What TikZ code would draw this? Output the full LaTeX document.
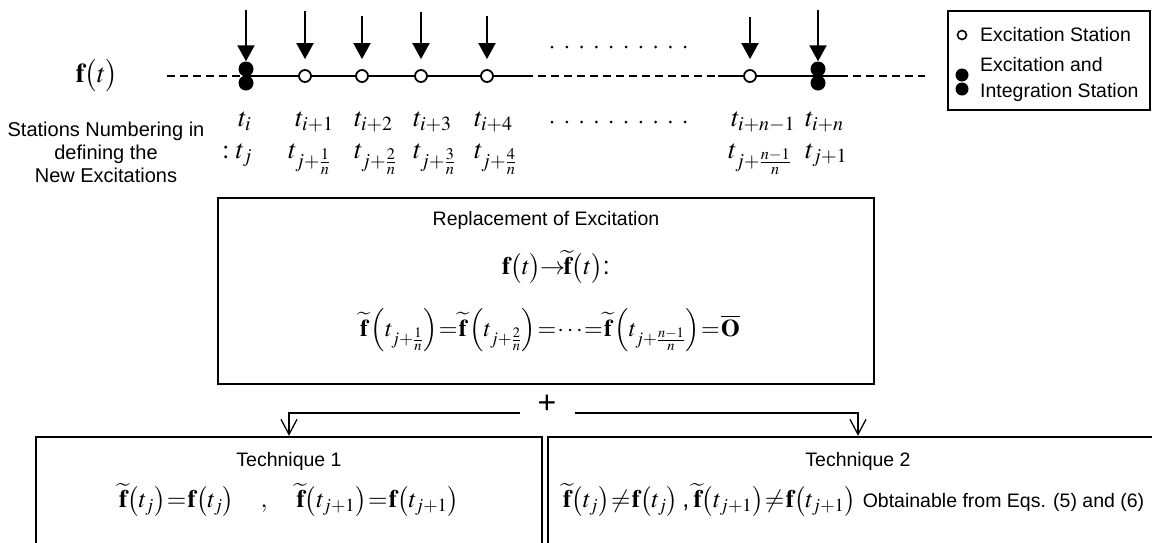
\documentclass[tikz,border=0pt]{standalone}
\usepackage{mathptmx}
\usepackage[no-math]{fontspec}
\setmainfont{Liberation Sans}
\usetikzlibrary{arrows.meta}
\newcommand{\tightrel}{\thickmuskip=1mu\relax\medmuskip=2mu\relax}
\tikzset{
  stn/.style={circle,draw,line width=1.8pt,fill=white,inner sep=0pt,minimum size=12pt},
  ful/.style={circle,fill=black,inner sep=0pt,minimum size=15pt},
  lbl/.style={inner sep=0pt,font=\fontsize{27}{30}\selectfont},
  sans/.style={inner sep=0pt,font=\fontsize{19.5}{23}\selectfont},
  eqn/.style={inner sep=0pt,font=\fontsize{25}{30}\selectfont},
  exarr/.style={line width=2pt,-{Triangle[width=17pt,length=16pt]}},
  dline/.style={line width=2.2pt,dash pattern=on 8pt off 5pt},
  sline/.style={line width=2pt},
  bigbox/.style={draw,line width=2.5pt,inner sep=0pt},
  tarr/.style={line width=1.3pt,-{Straight Barb[width=16pt,length=15pt]}},
  ldot/.style={fill=black},
}
\begin{document}
\begin{tikzpicture}[x=1pt,y=-1pt]
\useasboundingbox (0,0) rectangle (1152,542);
\clip (0,0) rectangle (1152,542);
\fill[white] (0,0) rectangle (1152,542);
% station positions
\coordinate (c0) at (246,76);
\coordinate (c1) at (305,76);
\coordinate (c2) at (362,76);
\coordinate (c3) at (421,76);
\coordinate (c4) at (487,76);
\coordinate (c5) at (750,76);
\coordinate (c6) at (818,76);
\coordinate (L0) at (167,76);
\coordinate (m1) at (525,76);
\coordinate (m2) at (718,76);
\coordinate (m3) at (840,76);
\coordinate (R0) at (925,76);
% time line
\draw[dline] (L0) -- (c0);
\draw[sline] (c0) -- (m1);
\draw[dline] (m1) -- (m2);
\draw[sline] (m2) -- (m3);
\draw[dline] (m3) -- (R0);
% stations
\node[ful] (s0a) at (246,69) {};
\node[ful] (s0b) at (246,83) {};
\node[stn] (s1) at (c1) {};
\node[stn] (s2) at (c2) {};
\node[stn] (s3) at (c3) {};
\node[stn] (s4) at (c4) {};
\node[stn] (s5) at (c5) {};
\node[ful] (s6a) at (818,69) {};
\node[ful] (s6b) at (818,83) {};
% excitation arrows
\coordinate (a0) at (246,10);
\coordinate (a1) at (305,11);
\coordinate (a2) at (362,16);
\coordinate (a3) at (421,12);
\coordinate (a4) at (487,16);
\coordinate (a5) at (750,17);
\coordinate (a6) at (818,10);
\draw[exarr] (a0) -- (s0a.north);
\draw[exarr] (a1) -- ([yshift=10pt]s1.north);
\draw[exarr] (a2) -- ([yshift=10pt]s2.north);
\draw[exarr] (a3) -- ([yshift=10pt]s3.north);
\draw[exarr] (a4) -- ([yshift=10pt]s4.north);
\draw[exarr] (a5) -- ([yshift=10pt]s5.north);
\draw[exarr] (a6) -- (s6a.north);
% dotted rows
\foreach \i in {0,...,9} {
  \fill[ldot] (552+14.8*\i,47) circle (1.5);
  \fill[ldot] (552+14.8*\i,122) circle (1.5);
}
% left labels
\node[lbl] (ft) at (97,76) {$\mathbf{f}\bigl(t\bigr)$};
\node[sans,align=center,font=\fontsize{20}{23}\selectfont] (stxt) at (106,152) {Stations Numbering in\\defining the\\New Excitations};
% row 1 labels
\node[lbl,anchor=base west] (l0) at (238,126) {$t_i$};
\node[lbl,anchor=base west] (l1) at (295,126) {$t_{i+1}$};
\node[lbl,anchor=base west] (l2) at (354,126) {$t_{i+2}$};
\node[lbl,anchor=base west] (l3) at (413,126) {$t_{i+3}$};
\node[lbl,anchor=base west] (l4) at (474,126) {$t_{i+4}$};
\node[lbl,anchor=base west] (l5) at (731,126) {$t_{i+n-1}$};
\node[lbl,anchor=base west] (l6) at (805,126) {$t_{i+n}$};
% row 2 labels
\node[lbl,anchor=base west] (k0) at (222,158) {$:t_j$};
\node[lbl,anchor=base west] (k1) at (288,158) {$t_{j+\frac{1}{n}}$};
\node[lbl,anchor=base west] (k2) at (354,158) {$t_{j+\frac{2}{n}}$};
\node[lbl,anchor=base west] (k3) at (413,158) {$t_{j+\frac{3}{n}}$};
\node[lbl,anchor=base west] (k4) at (474,158) {$t_{j+\frac{4}{n}}$};
\node[lbl,anchor=base west] (k5) at (728,158) {$t_{j+\frac{n-1}{n}}$};
\node[lbl,anchor=base west] (k6) at (805,158) {$t_{j+1}$};
% legend
\node[draw,line width=1.5pt,minimum width=202pt,minimum height=99pt,inner sep=0pt] (leg) at (1049,60.5) {};
\node[circle,draw,line width=1.6pt,inner sep=0pt,minimum size=9pt] (lo) at (962,35) {};
\node[sans,anchor=west] (lt1) at (980,35) {Excitation Station};
\node[ful,minimum size=13pt] (lfa) at (962,75) {};
\node[ful,minimum size=13pt] (lfb) at (962,89) {};
\node[sans,anchor=west] (lt2) at (980,65) {Excitation and};
\node[sans,anchor=west] (lt3) at (980,92) {Integration Station};
% replacement box
\node[bigbox,minimum width=656pt,minimum height=186pt] (R) at (546,291) {};
\node[sans] (rt) at (546,220) {Replacement of Excitation};
\node[eqn] (rf) at (556,267) {$\tightrel\mathbf{f}\bigl(t\bigr)\!\rightarrow\!\widetilde{\mathbf{f}}\bigl(t\bigr)$:};
\node[eqn,font=\fontsize{24}{30}\selectfont] (re) at (550,330) {$\tightrel\widetilde{\mathbf{f}}\left(t_{j+\frac{1}{n}}\right)=\widetilde{\mathbf{f}}\left(t_{j+\frac{2}{n}}\right)=\cdots=\widetilde{\mathbf{f}}\left(t_{j+\frac{n-1}{n}}\right)=\overline{\mathbf{O}}$};
% plus and split
\node[inner sep=0pt,font=\fontsize{32}{34}\selectfont] (plus) at (547,404) {+};
\node[bigbox,minimum width=506pt,minimum height=130pt] (T1) at (289,502) {};
\node[bigbox,minimum width=620pt,minimum height=130pt] (T2) at (858,502) {};
\coordinate (pl) at (520,413);
\coordinate (pr) at (575,413);
\draw[tarr] (pl) -| (T1.north);
\draw[tarr] (pr) -| (T2.north);
% technique texts
\node[sans] (t1t) at (289,461) {Technique 1};
\node[eqn] (t1e) at (289,500) {$\tightrel\widetilde{\mathbf{f}}\bigl(t_j\bigr)=\mathbf{f}\bigl(t_j\bigr)\quad\;,\quad\;\widetilde{\mathbf{f}}\bigl(t_{j+1}\bigr)=\mathbf{f}\bigl(t_{j+1}\bigr)$};
\node[sans] (t2t) at (858,461) {Technique 2};
\node[eqn,anchor=west] (t2e) at (563,500) {$\tightrel\widetilde{\mathbf{f}}\bigl(t_j\bigr)\neq\mathbf{f}\bigl(t_j\bigr)$\,,\,$\tightrel\widetilde{\mathbf{f}}\bigl(t_{j+1}\bigr)\neq\mathbf{f}\bigl(t_{j+1}\bigr)$ {\fontsize{19.5}{23}\selectfont Obtainable from Eqs. (5) and (6)}};
\end{tikzpicture}
\end{document}
